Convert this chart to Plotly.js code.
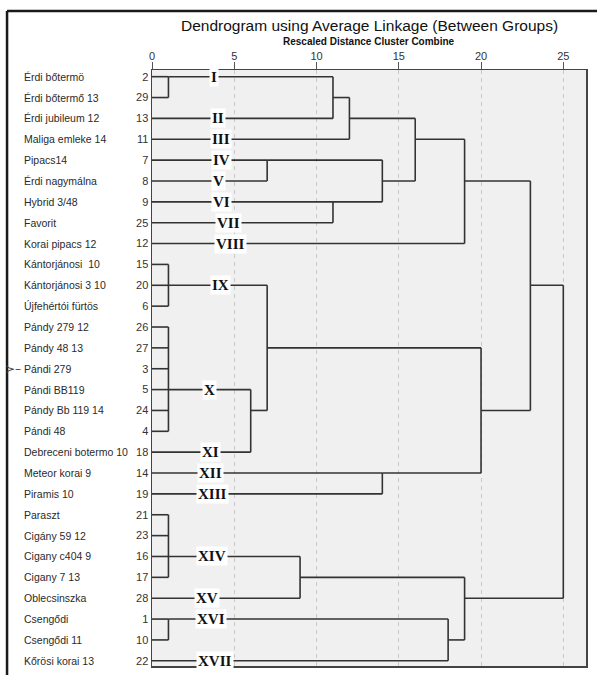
<!DOCTYPE html>
<html>
<head>
<meta charset="utf-8">
<script src="https://cdn.plot.ly/plotly-3.0.1.min.js"></script>
<style>html,body{margin:0;padding:0;background:#fff;}#chart{width:597px;height:675px;}</style>
</head>
<body>
<div id="chart"></div>
<script>
// ---- data ----
const leafIds = [2, 29, 13, 11, 7, 8, 9, 25, 12, 15, 20, 6, 26, 27, 3, 5, 24, 4, 18, 14, 19, 21, 23, 16, 17, 28, 1, 10, 22];
const leafNames = ["Érdi bőtermö", "Érdi bőtermő 13", "Érdi jubileum 12", "Maliga emleke 14", "Pipacs14", "Érdi nagymálna",
  "Hybrid 3/48", "Favorit", "Korai pipacs 12", "Kántorjánosi  10", "Kántorjánosi 3 10", "Újfehértói fürtös",
  "Pándy 279 12", "Pándy 48 13", "Pándi 279", "Pándi BB119", "Pándy Bb 119 14", "Pándi 48", "Debreceni botermo 10",
  "Meteor korai 9", "Piramis 10", "Paraszt", "Cigány 59 12", "Cigany c404 9", "Cigany 7 13", "Oblecsinszka",
  "Csengődi", "Csengődi 11", "Kőrösi korai 13"];
const mergeNames = ["c1","c2","c3","c4","c5","c6","c7","c8","c9","c10","c11","c12","c13","c14","c15","c16","c17","c18","c19","c20","c21"];
const mergeChildren = [
  [2, 29], ["c1", 13], ["c2", 11], [7, 8], [9, 25], ["c4", "c5"], ["c3", "c6"], ["c7", 12],
  [15, 20, 6], [26, 27, 3, 5, 24, 4], ["c10", 18], ["c9", "c11"], [14, 19], ["c12", "c13"], ["c8", "c14"],
  [21, 23, 16, 17], ["c16", 28], [1, 10], ["c18", 22], ["c17", "c19"], ["c15", "c20"]];
const mergeDist = [1, 11, 12, 7, 11, 14, 16, 19, 1, 1, 6, 7, 14, 20, 23, 1, 9, 1, 18, 19, 25];
const mergeRowLeaf = [2, 29, 13, 7, 9, 8, 11, 8, 20, 5, 24, 27, 14, 24, 20, 16, 17, 1, 10, 28, 4];
const romanLabels = ["I","II","III","IV","V","VI","VII","VIII","IX","X","XI","XII","XIII","XIV","XV","XVI","XVII"];
const romanLeaf = [2, 13, 11, 7, 8, 9, 25, 12, 20, 5, 18, 14, 19, 16, 28, 1, 22];
const xTicks = [0, 5, 10, 15, 20, 25];
const markedLeaf = 3;

// ---- build the dendrogram geometry ----
const key = c => (typeof c === 'number' ? 'L' + c : c);
const rowOf = {};
leafIds.forEach((id, i) => { rowOf['L' + id] = i; });
mergeNames.forEach((m, k) => { rowOf[m] = rowOf['L' + mergeRowLeaf[k]]; });
const parentDist = {};
mergeChildren.forEach((ch, k) => ch.forEach(c => { parentDist[key(c)] = mergeDist[k]; }));

const xs = [], ys = [];
leafIds.forEach((id, i) => {
  xs.push(0, parentDist['L' + id], null);
  ys.push(i, i, null);
});
mergeChildren.forEach((ch, k) => {
  const rows = ch.map(c => rowOf[key(c)]);
  const d = mergeDist[k];
  xs.push(d, d, null);
  ys.push(Math.min(...rows), Math.max(...rows), null);
  const pd = parentDist[mergeNames[k]];
  if (pd !== undefined) {
    const r = rowOf[mergeNames[k]];
    xs.push(d, pd, null);
    ys.push(r, r, null);
  }
});

// ---- layout helpers ----
const romanX = [3.78, 4.04, 4.19, 4.25, 4.07, 4.22, 4.65, 4.77, 4.19, 3.50, 3.53, 3.53, 3.65, 3.62, 3.34, 3.59, 3.83];
const sans = 'Liberation Sans, Arial, sans-serif';
const annotations = [];
leafNames.forEach((n, i) => annotations.push({
  text: n, xref: 'paper', yref: 'y', x: -0.2995, y: i, xanchor: 'left', yanchor: 'middle',
  showarrow: false, font: {family: sans, size: 10.5, color: '#2a2a2a'}
}));
romanLabels.forEach((t, i) => annotations.push({
  text: '<b>' + t + '</b>', xref: 'x', yref: 'y', x: romanX[i], y: leafIds.indexOf(romanLeaf[i]),
  xanchor: 'center', yanchor: 'middle', showarrow: false, bgcolor: '#ffffff', borderpad: 1,
  font: {family: 'Liberation Serif, Times New Roman, serif', size: 15, color: '#111'}
}));
annotations.push({
  text: 'Dendrogram using Average Linkage (Between Groups)', xref: 'paper', yref: 'paper',
  x: 0.5, y: 1.0755, xanchor: 'center', yanchor: 'middle', showarrow: false,
  font: {family: sans, size: 15.5, color: '#111'}
});
annotations.push({
  text: '<b>Rescaled Distance Cluster Combine</b>', xref: 'paper', yref: 'paper',
  x: 0.5, y: 1.0475, xanchor: 'center', yanchor: 'middle', showarrow: false,
  font: {family: sans, size: 10, color: '#111'}
});
annotations.push({
  text: '≻–', xref: 'paper', yref: 'y', x: -0.321, y: leafIds.indexOf(markedLeaf),
  xanchor: 'center', yanchor: 'middle', showarrow: false,
  font: {family: 'DejaVu Sans, sans-serif', size: 12, color: '#444'}
});

const layout = {
  width: 597, height: 675,
  margin: {l: 152, r: 11, t: 70, b: 9, pad: 0},
  paper_bgcolor: '#ffffff', plot_bgcolor: '#f0f0f0',
  showlegend: false,
  xaxis: {
    side: 'top', range: [0, 26.38], tickvals: xTicks, ticktext: xTicks.map(String),
    ticks: 'outside', ticklen: 7, tickwidth: 1, tickcolor: '#555', ticklabelstandoff: -3,
    tickfont: {family: sans, size: 11, color: '#333'},
    showgrid: true, gridcolor: '#c9c9c9', griddash: '4px,4px', gridwidth: 1,
    zeroline: false, showline: true, mirror: true, linecolor: '#444', linewidth: 1.5, fixedrange: true
  },
  yaxis: {
    range: [28.25, -0.32], tickvals: leafIds.map((_, i) => i), ticktext: leafIds.map(String),
    ticks: '', tickfont: {family: sans, size: 11, color: '#333'},
    showgrid: false, zeroline: false, showline: true, mirror: true, linecolor: '#444', linewidth: 1.5, fixedrange: true
  },
  shapes: [
    {type: 'line', xref: 'paper', yref: 'paper', x0: -0.334, x1: -0.334, y0: -0.03, y1: 1.099, line: {color: '#1a1a1a', width: 2.5}},
    {type: 'line', xref: 'paper', yref: 'paper', x0: -0.334, x1: 1.04, y0: 1.099, y1: 1.099, line: {color: '#1a1a1a', width: 2.5}}
  ],
  annotations: annotations
};

const trace = {
  type: 'scatter', mode: 'lines', x: xs, y: ys, connectgaps: false,
  line: {color: '#333333', width: 1.6}, hoverinfo: 'skip', cliponaxis: false
};

Plotly.newPlot('chart', [trace], layout, {staticPlot: true, displayModeBar: false});
</script>
</body>
</html>
